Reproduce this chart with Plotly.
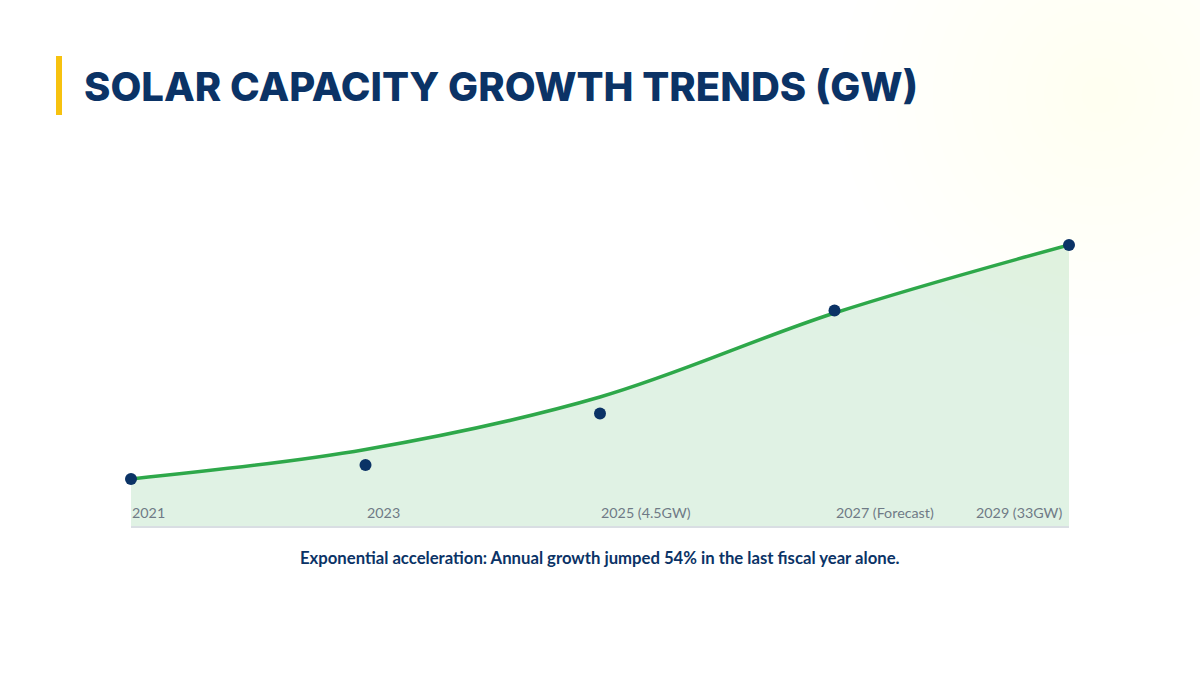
import plotly.graph_objects as go

# ---- data ----
years = [2021, 2023, 2025, 2027, 2029]
tick_labels = ["2021", "2023", "2025 (4.5GW)", "2027 (Forecast)", "2029 (33GW)"]
marker_values = [15.7, 20.3, 37.5, 71.8, 93.7]
trend_values = [15.7, 25.5, 43.0, 71.0, 93.7]

W, H = 1200, 675
L, R, T, B = 131, 1069, 226, 526  # plot area in pixels


def px2paper(px, py):
    return (px - L) / (R - L), (B - py) / (B - T)


NAVY = "#0b3366"
GREEN = "#2ea84a"

fig = go.Figure()

fig.add_trace(go.Scatter(
    x=years, y=trend_values, mode="lines",
    line=dict(color=GREEN, width=3.5, shape="spline", smoothing=1.0),
    fill="tozeroy", fillcolor="rgba(46,168,74,0.15)",
    hoverinfo="skip", showlegend=False, cliponaxis=False,
))
fig.add_trace(go.Scatter(
    x=years, y=marker_values, mode="markers",
    marker=dict(color=NAVY, size=12),
    showlegend=False, cliponaxis=False,
))

shapes = []
# background glows
def glow(cx, cy, radius, rgb, n, alpha):
    for i in range(n):
        r = radius * (1 - i / n)
        x0, y0 = px2paper(cx - r, cy + r)
        x1, y1 = px2paper(cx + r, cy - r)
        shapes.append(dict(type="circle", xref="paper", yref="paper",
                           x0=x0, x1=x1, y0=y0, y1=y1, layer="below",
                           line=dict(width=0),
                           fillcolor=f"rgba({rgb[0]},{rgb[1]},{rgb[2]},{alpha})"))

glow(1100, 95, 260, (255, 232, 170), 14, 0.009)
glow(90, 615, 220, (222, 228, 236), 14, 0.012)

# accent bar
x0, y0 = px2paper(56, 115)
x1, y1 = px2paper(62, 56)
shapes.append(dict(type="rect", xref="paper", yref="paper", x0=x0, x1=x1,
                   y0=y0, y1=y1, fillcolor="#f7c20f", line=dict(width=0)))

annotations = []
tx, ty = px2paper(82, 86)
annotations.append(dict(text="SOLAR CAPACITY GROWTH TRENDS (GW)", xref="paper", yref="paper",
                        x=tx, y=ty, xanchor="left", yanchor="middle", showarrow=False,
                        font=dict(family="Inter", size=40, color=NAVY, weight=800)))
sx, sy = px2paper(600, 558)
annotations.append(dict(text="Exponential acceleration: Annual growth jumped 54% in the last fiscal year alone.",
                        xref="paper", yref="paper", x=sx, y=sy, xanchor="center", yanchor="middle",
                        showarrow=False, font=dict(family="Lato", size=16.7, color=NAVY, weight=700)))
for i, (yr, lab) in enumerate(zip(years, tick_labels)):
    last = i == len(years) - 1
    annotations.append(dict(text=lab, x=yr, y=(B - 512) / (B - T) * 100, xref="x", yref="y",
                            xanchor="right" if last else "left", yanchor="middle",
                            xshift=-5 if last else -1, showarrow=False,
                            font=dict(family="Lato", size=14.3, color="#6f7a86")))

fig.update_layout(
    width=W, height=H,
    margin=dict(l=L, r=W - R, t=T, b=H - B),
    paper_bgcolor="white", plot_bgcolor="rgba(0,0,0,0)",
    shapes=shapes, annotations=annotations,
    xaxis=dict(range=[2021, 2029], showgrid=False, zeroline=False, showticklabels=False,
               ticks="", showline=True, linecolor="#d9dee3", linewidth=1.5, fixedrange=True),
    yaxis=dict(range=[0, 100], showgrid=False, zeroline=False, showticklabels=False,
               ticks="", showline=False, fixedrange=True),
    hovermode=False,
)

fig.write_html("out.html")
